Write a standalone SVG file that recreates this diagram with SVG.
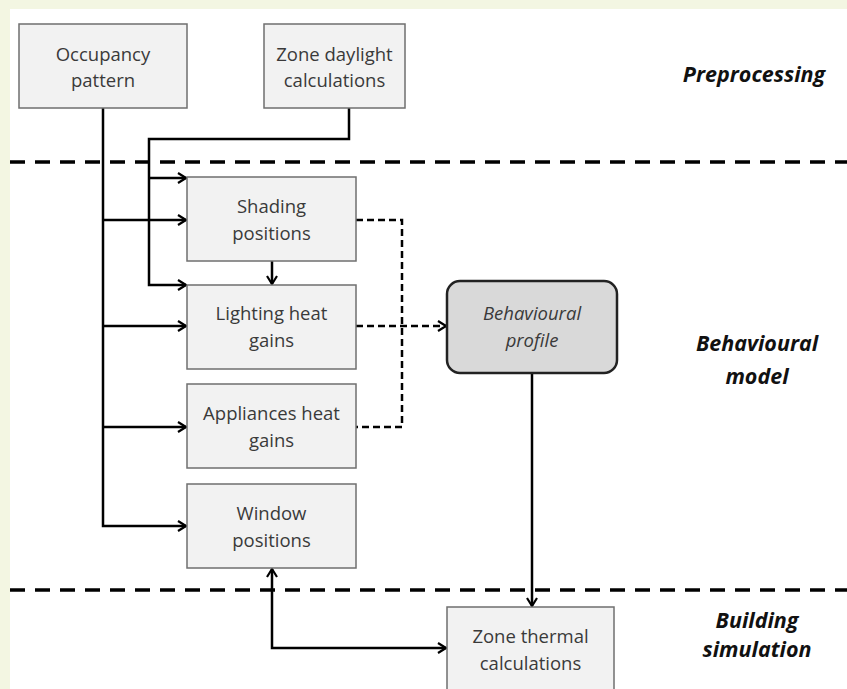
<svg xmlns="http://www.w3.org/2000/svg" width="847" height="689" viewBox="0 0 847 689">
<defs>
<marker id="arr" viewBox="0 0 10 12" markerWidth="10" markerHeight="12" refX="9" refY="6" orient="auto" markerUnits="userSpaceOnUse">
<path d="M1,1 L9,6 L1,11" fill="none" stroke="#000" stroke-width="2.2"/>
</marker>
<marker id="arrs" viewBox="0 0 10 12" markerWidth="10" markerHeight="12" refX="9" refY="6" orient="auto-start-reverse" markerUnits="userSpaceOnUse">
<path d="M1,1 L9,6 L1,11" fill="none" stroke="#000" stroke-width="2.2"/>
</marker>
</defs>
<style>
.box{fill:#f2f2f2;stroke:#6f6f6f;stroke-width:1.5}
.bp{fill:#d9d9d9;stroke:#222;stroke-width:2.5}
.t{font-family:"Open Sans","Liberation Sans",sans-serif;font-size:18.5px;fill:#3a3a3a;text-anchor:middle}
.ti{font-style:italic}
.lab{font-family:"Open Sans","Liberation Sans",sans-serif;font-size:21.5px;font-weight:bold;font-style:italic;fill:#111;text-anchor:middle}
.c{fill:none;stroke:#000;stroke-width:2.5}
.d{fill:none;stroke:#000;stroke-width:2.5;stroke-dasharray:7 4}
.sep{fill:none;stroke:#000;stroke-width:3.5;stroke-dasharray:15 10}
</style>
<rect x="0" y="0" width="847" height="689" fill="#f3f6e2"/>
<rect x="10" y="9" width="837" height="680" fill="#fff"/>

<g id="separators">
<line class="sep" x1="10" y1="162" x2="847" y2="162"/>
<line class="sep" x1="10" y1="590" x2="847" y2="590"/>
</g>

<g id="connectors">
<path class="c" d="M103,108 V526 H186" marker-end="url(#arr)"/>
<path class="c" d="M103,220 H186" marker-end="url(#arr)"/>
<path class="c" d="M103,326 H186" marker-end="url(#arr)"/>
<path class="c" d="M103,427 H186" marker-end="url(#arr)"/>
<path class="c" d="M349,108 V139 H149 V285 H186" marker-end="url(#arr)"/>
<path class="c" d="M149,178 H186" marker-end="url(#arr)"/>
<path class="c" d="M272,261 V284" marker-end="url(#arr)"/>
<path class="d" d="M356,220 H402 V427 H356"/>
<path class="d" d="M356,326 H446" marker-end="url(#arr)"/>
<path class="c" d="M532,373 V606" marker-end="url(#arr)"/>
<path class="c" d="M272,569 V648 H446" marker-start="url(#arrs)" marker-end="url(#arr)"/>
</g>

<g id="occupancy">
<rect class="box" x="19" y="24" width="168" height="84"/>
<text class="t" x="103" y="61">Occupancy</text>
<text class="t" x="103" y="87">pattern</text>
</g>
<g id="daylight">
<rect class="box" x="264" y="24" width="141" height="84"/>
<text class="t" x="334.5" y="61">Zone daylight</text>
<text class="t" x="334.5" y="87">calculations</text>
</g>
<g id="shading">
<rect class="box" x="187" y="177" width="169" height="84"/>
<text class="t" x="271.5" y="213">Shading</text>
<text class="t" x="271.5" y="240">positions</text>
</g>
<g id="lighting">
<rect class="box" x="187" y="285" width="169" height="84"/>
<text class="t" x="271.5" y="320">Lighting heat</text>
<text class="t" x="271.5" y="347">gains</text>
</g>
<g id="appliances">
<rect class="box" x="187" y="384" width="169" height="84"/>
<text class="t" x="271.5" y="420">Appliances heat</text>
<text class="t" x="271.5" y="447">gains</text>
</g>
<g id="window">
<rect class="box" x="187" y="484" width="169" height="84"/>
<text class="t" x="271.5" y="520">Window</text>
<text class="t" x="271.5" y="547">positions</text>
</g>
<g id="behavioural-profile">
<rect class="bp" x="447" y="281" width="170" height="92" rx="13" ry="13"/>
<text class="t ti" x="532" y="320">Behavioural</text>
<text class="t ti" x="532" y="347">profile</text>
</g>
<g id="zone-thermal">
<rect class="box" x="447" y="607" width="167" height="90"/>
<text class="t" x="530.5" y="643">Zone thermal</text>
<text class="t" x="530.5" y="670">calculations</text>
</g>

<g id="labels">
<text class="lab" x="754" y="82">Preprocessing</text>
<text class="lab" x="757" y="351">Behavioural</text>
<text class="lab" x="757" y="384">model</text>
<text class="lab" x="757" y="628">Building</text>
<text class="lab" x="757" y="657">simulation</text>
</g>
</svg>
